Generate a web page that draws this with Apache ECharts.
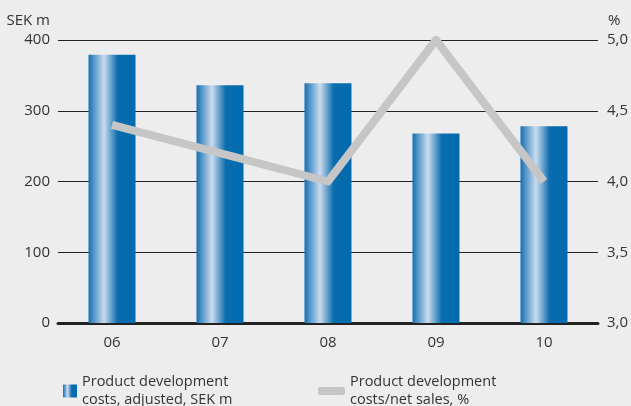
<!DOCTYPE html>
<html>
<head>
<meta charset="utf-8">
<script src="https://cdn.jsdelivr.net/npm/echarts@6/dist/echarts.min.js"></script>
<style>
  html, body { margin: 0; padding: 0; background: #ededed; }
  #chart { width: 631px; height: 406px; }
</style>
</head>
<body>
<div id="chart"></div>
<script>
const years = ["06", "07", "08", "09", "10"];
const costs = [379, 336, 339, 268, 278];
const costShare = [4.4, 4.2, 4.0, 5.0, 4.0];
const barName = "Product development\ncosts, adjusted, SEK m";
const lineName = "Product development\ncosts/net sales, %";

const chart = echarts.init(document.getElementById("chart"));
const font = "'Open Sans', 'Noto Sans', sans-serif";

// horizontal gradient like the original bars: dark edge, pale stripe, dark
const barFill = new echarts.graphic.LinearGradient(0, 0, 1, 0, [
    { offset: 0, color: "#1470b3" },
    { offset: 0.33, color: "#cbdcee" },
    { offset: 0.62, color: "#0a6cae" },
    { offset: 1, color: "#006bad" },
]);

const option = {
    backgroundColor: "#ededed",
    textStyle: { fontFamily: font },
    grid: { left: 58, right: 33, top: 40, bottom: 83 },
    legend: [
        {
            data: [{ name: barName, icon: "rect" }],
            left: 58,
            top: 368,
            itemWidth: 14,
            itemHeight: 13,
            itemGap: 8,
            textStyle: { fontSize: 14.5, color: "#333", lineHeight: 18, fontFamily: font },
        },
        {
            data: [{ name: lineName, icon: "roundRect" }],
            left: 313,
            top: 368,
            itemWidth: 27,
            itemHeight: 8,
            textStyle: { fontSize: 14.5, color: "#333", lineHeight: 18, fontFamily: font },
        },
    ],
    xAxis: {
        type: "category",
        data: years,
        axisLine: { lineStyle: { color: "#222", width: 3 } },
        axisTick: { show: false },
        axisLabel: { color: "#333", fontSize: 15, margin: 12, fontFamily: font },
    },
    yAxis: [
        {
            type: "value",
            min: 0,
            max: 400,
            interval: 100,
            name: "SEK m",
            nameGap: 12,
            nameTextStyle: { color: "#333", fontSize: 15, align: "right", padding: [0, 8, 0, 0], fontFamily: font },
            axisLine: { show: false },
            axisTick: { show: false },
            axisLabel: { color: "#333", fontSize: 15, margin: 8, fontFamily: font },
            splitLine: { lineStyle: { color: "#222", width: 1.2 } },
        },
        {
            type: "value",
            min: 3,
            max: 5,
            interval: 0.5,
            name: "%",
            nameGap: 12,
            nameTextStyle: { color: "#333", fontSize: 15, align: "left", padding: [0, 0, 0, 10], fontFamily: font },
            axisLine: { show: false },
            axisTick: { show: false },
            splitLine: { show: false },
            axisLabel: {
                color: "#333",
                fontSize: 15,
                margin: 9,
                fontFamily: font,
                formatter: (v) => v.toFixed(1).replace(".", ","),
            },
        },
    ],
    series: [
        {
            name: barName,
            type: "bar",
            data: costs,
            barWidth: 47,
            itemStyle: { color: barFill },
        },
        {
            name: lineName,
            type: "line",
            yAxisIndex: 1,
            data: costShare,
            symbol: "none",
            itemStyle: { color: "#c6c6c6" },
            lineStyle: { color: "#c6c6c6", width: 8, join: "round", cap: "butt" },
            z: 3,
        },
    ],
    animation: false,
};

chart.setOption(option);
</script>
</body>
</html>
